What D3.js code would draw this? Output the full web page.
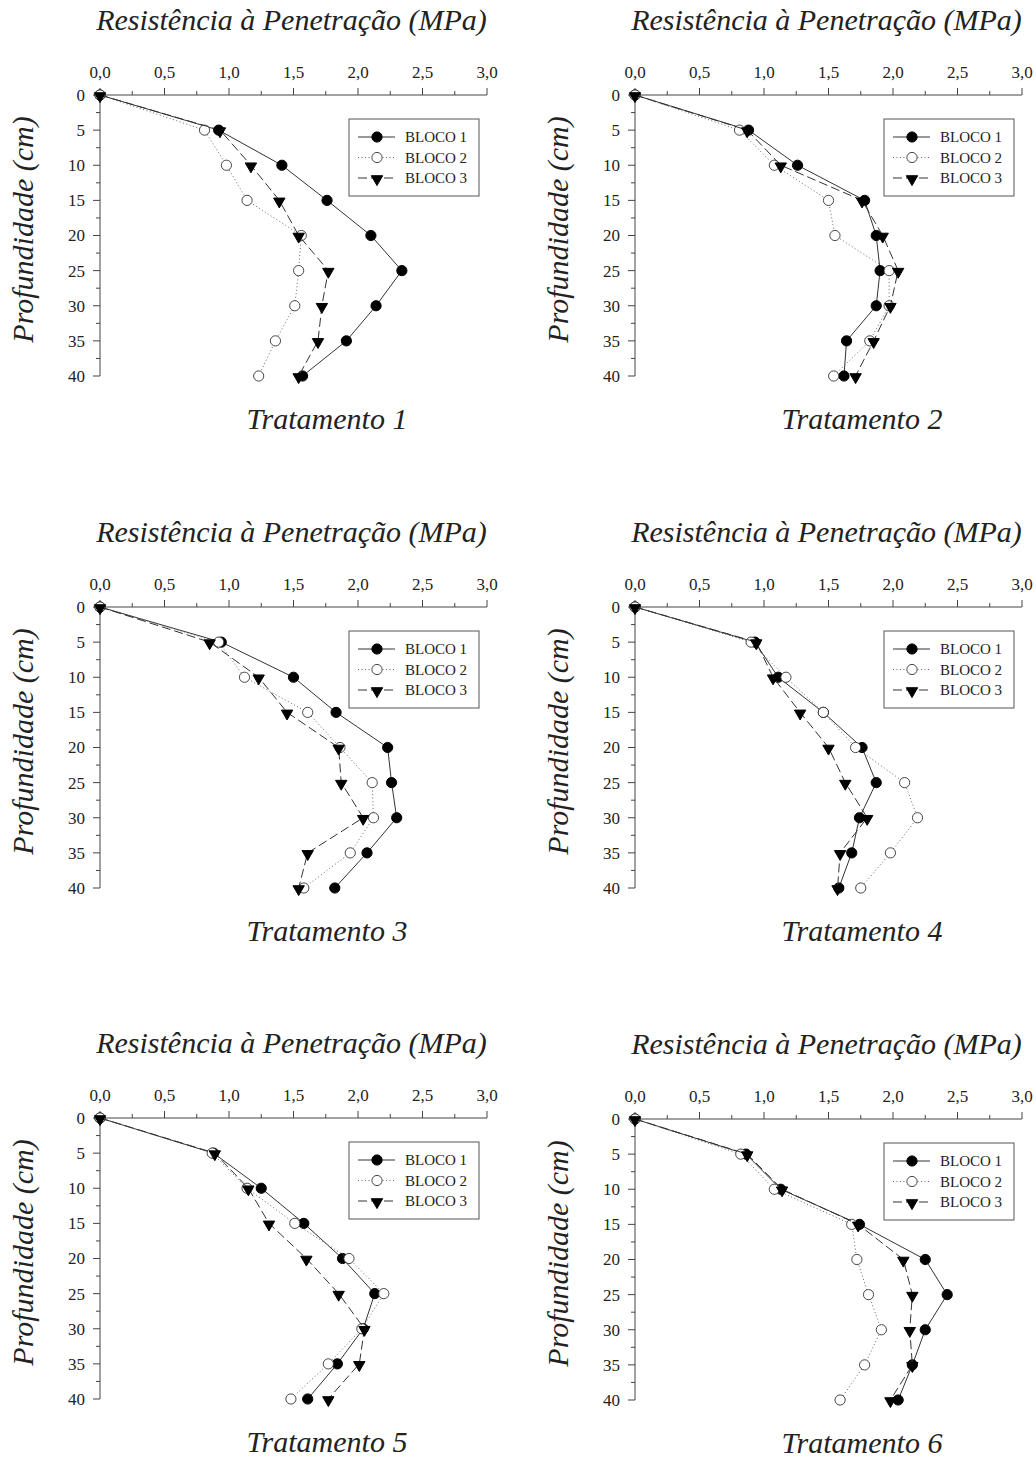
<!DOCTYPE html>
<html>
<head>
<meta charset="utf-8">
<script src="https://cdn.jsdelivr.net/npm/d3@7"></script>
<style>
  body { margin: 0; background: #fff; }
  svg { display: block; font-family: "Liberation Serif", "Times New Roman", serif; }
</style>
</head>
<body>
<svg id="chart" width="1036" height="1458"></svg>
<script>
// depths (cm) and resistance readings (MPa) per treatment: [bloco1, bloco2, bloco3]
const depths = [0, 5, 10, 15, 20, 25, 30, 35, 40];
const blocos = ['BLOCO 1', 'BLOCO 2', 'BLOCO 3'];
const xTicks = [0, 0.5, 1, 1.5, 2, 2.5, 3];
const yTicks = [0, 5, 10, 15, 20, 25, 30, 35, 40];

const trat1 = [
    [0, 0.92, 1.41, 1.76, 2.10, 2.34, 2.14, 1.91, 1.57],
    [0, 0.81, 0.98, 1.14, 1.56, 1.54, 1.51, 1.36, 1.23],
    [0, 0.93, 1.17, 1.39, 1.54, 1.77, 1.72, 1.69, 1.54]
];
const trat2 = [
    [0, 0.88, 1.26, 1.78, 1.87, 1.90, 1.87, 1.64, 1.62],
    [0, 0.81, 1.08, 1.50, 1.55, 1.97, 1.97, 1.82, 1.54],
    [0, 0.87, 1.13, 1.76, 1.92, 2.04, 1.98, 1.85, 1.71]
];
const trat3 = [
    [0, 0.94, 1.50, 1.83, 2.23, 2.26, 2.30, 2.07, 1.82],
    [0, 0.92, 1.12, 1.61, 1.86, 2.11, 2.12, 1.94, 1.58],
    [0, 0.85, 1.23, 1.45, 1.85, 1.87, 2.04, 1.61, 1.54]
];
const trat4 = [
    [0, 0.93, 1.11, 1.46, 1.76, 1.87, 1.74, 1.68, 1.58],
    [0, 0.90, 1.17, 1.46, 1.71, 2.09, 2.19, 1.98, 1.75],
    [0, 0.94, 1.07, 1.28, 1.50, 1.63, 1.80, 1.59, 1.57]
];
const trat5 = [
    [0, 0.88, 1.25, 1.58, 1.88, 2.13, 2.04, 1.84, 1.61],
    [0, 0.87, 1.14, 1.51, 1.93, 2.20, 2.03, 1.77, 1.48],
    [0, 0.89, 1.15, 1.31, 1.60, 1.85, 2.05, 2.01, 1.77]
];
const trat6 = [
    [0, 0.86, 1.13, 1.74, 2.25, 2.42, 2.25, 2.15, 2.04],
    [0, 0.82, 1.08, 1.68, 1.72, 1.81, 1.91, 1.78, 1.59],
    [0, 0.87, 1.14, 1.73, 2.08, 2.15, 2.13, 2.15, 1.98]
];
const tratamentos = ['Tratamento 1', 'Tratamento 2', 'Tratamento 3',
                     'Tratamento 4', 'Tratamento 5', 'Tratamento 6'];
const panelData = [trat1, trat2, trat3, trat4, trat5, trat6];

// plot-area origins (top-left) of the 6 panels
const origins = [[100, 95], [635, 95], [100, 607], [635, 607], [100, 1118], [635, 1119]];
const plotW = 387, plotH = 281;

const ink = '#222';
const dashes = [null, '1,2.5', '9,4'];
const lineColors = ['#333', '#666', '#333'];

const svg = d3.select('#chart');

const x = d3.scaleLinear().domain([0, 3]).range([0, plotW]);
const y = d3.scaleLinear().domain([0, 40]).range([0, plotH]);

const fmt = d => d3.format('.1f')(d).replace('.', ',');

const circleSym = d3.symbol().type(d3.symbolCircle).size(82);
const triSym = d3.symbol().type(d3.symbolTriangle).size(56);

function drawMarker(g, k, cx, cy) {
    if (k === 0) {
        g.append('path').attr('d', circleSym())
            .attr('transform', `translate(${cx},${cy})`)
            .attr('fill', '#000').attr('stroke', '#000');
    } else if (k === 1) {
        g.append('path').attr('d', circleSym())
            .attr('transform', `translate(${cx},${cy})`)
            .attr('fill', '#fff').attr('stroke', '#333').attr('stroke-width', 0.9);
    } else {
        g.append('path').attr('d', triSym())
            .attr('transform', `translate(${cx},${cy + 1}) rotate(180)`)
            .attr('fill', '#000').attr('stroke', '#000');
    }
}

panelData.forEach(function (series, p) {
    const [ox, oy] = origins[p];
    const g = svg.append('g').attr('transform', `translate(${ox},${oy})`);

    // top x axis, major + minor ticks
    const xAxis = g.append('g').attr('class', 'x-axis');
    xAxis.append('line').attr('x1', 0).attr('x2', plotW).attr('y1', 0).attr('y2', 0)
        .attr('stroke', '#444');
    xAxis.selectAll('.minor').data(d3.range(0.25, 3, 0.5)).join('line')
        .attr('x1', d => x(d)).attr('x2', d => x(d)).attr('y1', 0).attr('y2', -4)
        .attr('stroke', '#444');
    xAxis.selectAll('.major').data(xTicks).join('line')
        .attr('x1', d => x(d)).attr('x2', d => x(d)).attr('y1', 0).attr('y2', -7)
        .attr('stroke', '#444');
    xAxis.selectAll('text').data(xTicks).join('text')
        .attr('x', d => x(d)).attr('y', -17)
        .attr('text-anchor', 'middle').attr('font-size', 17).attr('fill', ink)
        .text(fmt);

    // left y axis (depth downwards)
    const yAxis = g.append('g').attr('class', 'y-axis');
    yAxis.append('line').attr('x1', 0).attr('x2', 0).attr('y1', 0).attr('y2', plotH)
        .attr('stroke', '#444');
    yAxis.selectAll('.minor').data(d3.range(2.5, 40, 5)).join('line')
        .attr('x1', 0).attr('x2', -4).attr('y1', d => y(d)).attr('y2', d => y(d))
        .attr('stroke', '#444');
    yAxis.selectAll('.major').data(yTicks).join('line')
        .attr('x1', 0).attr('x2', -7).attr('y1', d => y(d)).attr('y2', d => y(d))
        .attr('stroke', '#444');
    yAxis.selectAll('text').data(yTicks).join('text')
        .attr('x', -15).attr('y', d => y(d)).attr('dy', '0.35em')
        .attr('text-anchor', 'end').attr('font-size', 17).attr('fill', ink)
        .text(d => d);

    // titles
    g.append('text')
        .attr('x', plotW / 2 - 2).attr('y', -65)
        .attr('text-anchor', 'middle').attr('font-size', 30).attr('font-style', 'italic')
        .attr('fill', ink)
        .text('Resistência à Penetração (MPa)');
    g.append('text')
        .attr('transform', `translate(${-67},${plotH / 2 - 6}) rotate(-90)`)
        .attr('text-anchor', 'middle').attr('font-size', 30).attr('font-style', 'italic')
        .attr('fill', ink)
        .text('Profundidade (cm)');
    g.append('text')
        .attr('x', 227).attr('y', plotH + 53)
        .attr('text-anchor', 'middle').attr('font-size', 30).attr('font-style', 'italic')
        .attr('fill', ink)
        .text(tratamentos[p]);

    // series
    const line = d3.line().x(d => x(d[0])).y(d => y(d[1]));
    series.forEach(function (vals, k) {
        const pts = vals.map((v, i) => [v, depths[i]]);
        const sg = g.append('g');
        sg.append('path').datum(pts).attr('d', line)
            .attr('fill', 'none').attr('stroke', lineColors[k]).attr('stroke-width', 1)
            .attr('stroke-dasharray', dashes[k]);
        pts.forEach(d => drawMarker(sg, k, x(d[0]), y(d[1])));
    });

    // legend
    const lg = g.append('g').attr('transform', 'translate(249,24)');
    lg.append('rect').attr('width', 130).attr('height', 77)
        .attr('fill', '#fff').attr('stroke', '#555').attr('stroke-width', 1);
    blocos.forEach(function (name, k) {
        const ly = 18 + k * 20.5;
        lg.append('line').attr('x1', 9).attr('x2', 46).attr('y1', ly).attr('y2', ly)
            .attr('stroke', lineColors[k]).attr('stroke-dasharray', dashes[k]);
        drawMarker(lg, k, 28, ly);
        lg.append('text').attr('x', 56).attr('y', ly).attr('dy', '0.35em')
            .attr('font-size', 15).attr('fill', ink).text(name);
    });
});
</script>
</body>
</html>
